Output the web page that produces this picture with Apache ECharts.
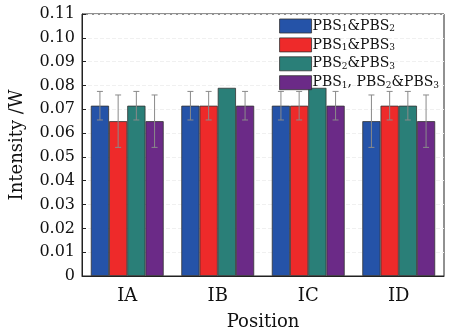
<!DOCTYPE html>
<html><head><meta charset="utf-8">
<script src="https://cdn.jsdelivr.net/npm/echarts@6/dist/echarts.min.js"></script>
<style>html,body{margin:0;padding:0;background:#fff}#c{width:451px;height:336px}</style>
</head><body><div id="c"></div>
<script>
const categories = ['IA','IB','IC','ID'];
const seriesNames = ['PBS1&PBS2','PBS1&PBS3','PBS2&PBS3','PBS1, PBS2&PBS3'];
const legendRich = ['{m|PBS}{s|1}{m|&PBS}{s|2}','{m|PBS}{s|1}{m|&PBS}{s|3}','{m|PBS}{s|2}{m|&PBS}{s|3}','{m|PBS}{s|1}{m|, PBS}{s|2}{m|&PBS}{s|3}'];
const values = [
  [0.0715, 0.0715, 0.0715, 0.065],
  [0.065, 0.0715, 0.0715, 0.0715],
  [0.0715, 0.079, 0.079, 0.0715],
  [0.065, 0.0715, 0.0715, 0.065]
];
const errors = [
  [0.006, 0.006, 0.006, 0.011],
  [0.011, 0.006, 0.006, 0.006],
  [0.006, 0, 0, 0.006],
  [0.011, 0.006, 0.006, 0.011]
];
const colors = ['#2553a8','#ee2a2a','#2a7f78','#6b2a87'];
const yTicks = ['0','0.01','0.02','0.03','0.04','0.05','0.06','0.07','0.08','0.09','0.10','0.11'];

const font = 'DejaVu Serif';
const chart = echarts.init(document.getElementById('c'));
const nS = seriesNames.length;
const barSeries = seriesNames.map((n,i)=>({
  name:n, type:'bar', data:values[i], barGap:'0%', barCategoryGap:'19.5%',
  itemStyle:{color:colors[i], borderColor:'#333', borderWidth:0.8}
}));
const errData = [];
for (let s=0;s<nS;s++) for (let c=0;c<categories.length;c++) {
  if (errors[s][c]>0) errData.push([c, values[s][c]-errors[s][c], values[s][c]+errors[s][c], s]);
}
const errSeries = {
  type:'custom', name:'err', z:10, silent:true,
  data: errData,
  encode:{x:0, y:[1,2]},
  renderItem:function(params, api){
    const c = api.value(0), lo = api.value(1), hi = api.value(2), s = api.value(3);
    const base = api.coord([c, 0]);
    const band = api.size([1,0])[0];
    const groupW = band*(1-0.195);
    const bw = groupW/nS;
    const x = base[0] - groupW/2 + bw*(s+0.5);
    const pLo = api.coord([c, lo])[1];
    const pHi = api.coord([c, hi])[1];
    const cap = 3;
    const st = {stroke:'#8a8a8a', lineWidth:1};
    return {type:'group', children:[
      {type:'line', shape:{x1:x,y1:pLo,x2:x,y2:pHi}, style:st},
      {type:'line', shape:{x1:x-cap,y1:pLo,x2:x+cap,y2:pLo}, style:st},
      {type:'line', shape:{x1:x-cap,y1:pHi,x2:x+cap,y2:pHi}, style:st}
    ]};
  }
};
chart.setOption({
  animation:false,
  grid:{left:81, right:7, top:14, bottom:51, show:true, borderColor:'#222', borderWidth:1, backgroundColor:'transparent'},
  legend:{
    data:seriesNames, orient:'vertical', right:12, top:18, itemWidth:32, itemHeight:14, itemGap:3.5,
    padding:0,
    icon:'rect',
    itemStyle:{borderColor:'#333', borderWidth:0.8},
    formatter:function(n){ return legendRich[seriesNames.indexOf(n)]; },
    textStyle:{fontFamily:font, color:'#111', padding:[0,0,0,-4], lineHeight:14,
      rich:{m:{fontFamily:font, fontSize:14, lineHeight:14, color:'#111'}, s:{fontFamily:font, fontSize:9, lineHeight:8, color:'#111', verticalAlign:'bottom', padding:[6,0,0,0]}}}
  },
  xAxis:{
    type:'category', data:categories, name:'Position', nameLocation:'middle', nameGap:37,
    nameTextStyle:{fontFamily:font, fontSize:18, color:'#111'},
    axisLine:{lineStyle:{color:'#222'}}, axisTick:{show:false},
    axisLabel:{fontFamily:font, fontSize:18, color:'#111', margin:11}
  },
  yAxis:{
    type:'value', min:0, max:0.11, interval:0.01, name:'Intensity /W', nameLocation:'middle', nameGap:56,
    nameTextStyle:{fontFamily:font, fontSize:18, color:'#111'},
    axisLine:{show:true, lineStyle:{color:'#222'}},
    axisTick:{show:true, inside:true, length:4, lineStyle:{color:'#222'}},
    splitLine:{show:true, lineStyle:{color:'#f0f0f0', type:'dashed'}},
    axisLabel:{fontFamily:font, fontSize:16, color:'#111', margin:7,
      formatter:function(v){ return yTicks[Math.round(v*100)]; }}
  },
  color:colors,
  series:[...barSeries, errSeries]
});
</script></body></html>
